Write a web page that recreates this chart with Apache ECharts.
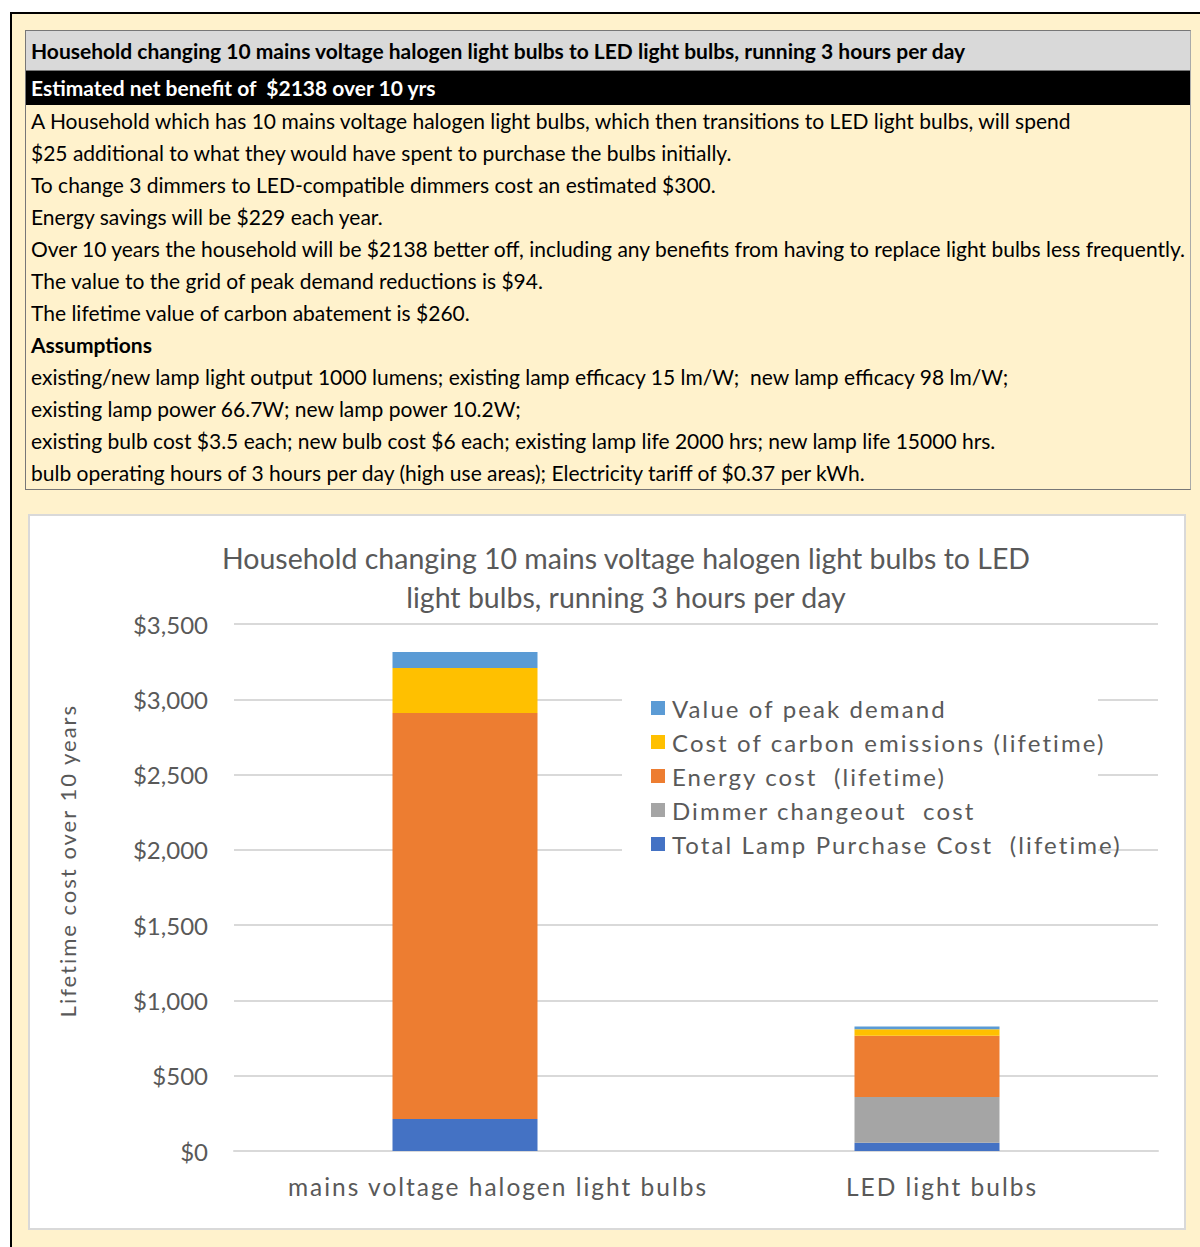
<!DOCTYPE html>
<html>
<head>
<meta charset="utf-8">
<script src="https://cdn.jsdelivr.net/npm/echarts@6/dist/echarts.min.js"></script>
<style>
  html, body { margin: 0; padding: 0; background: #ffffff; width: 1200px; height: 1247px; overflow: hidden; }
  #frame { position: absolute; left: 10px; top: 12px; width: 1300px; height: 1300px; background: #fff2cc;
           border-left: 2px solid #000; border-top: 2px solid #000; }
  #table { position: absolute; left: 25px; top: 30px; width: 1164px; border: 1px solid #777; border-right-color: #aaa;
           font-family: Lato, "Open Sans", sans-serif; font-size: 21px; color: #000; }
  #table div { white-space: nowrap; padding-left: 5px; box-sizing: border-box; }
  .hdr { height: 40px; line-height: 39px; background: #d9d9d9; font-weight: bold; border-bottom: 1px solid #777; }
  .blk { height: 34px; line-height: 33px; background: #000; color: #fff; font-weight: bold; }
  .row { height: 32px; line-height: 31px; }
  .b { font-weight: bold; }
  #chartbox { position: absolute; left: 28px; top: 514px; width: 1158px; height: 716px; background: #fff;
              box-sizing: border-box; border: 2px solid #d9d9d9; }
  #chart { position: absolute; left: 28px; top: 514px; width: 1158px; height: 716px; }
</style>
</head>
<body>
<div id="frame"></div>
<div id="table">
  <div class="hdr">Household changing 10 mains voltage halogen light bulbs to LED light bulbs, running 3 hours per day</div>
  <div class="blk">Estimated net benefit of&nbsp; $2138 over 10 yrs</div>
  <div class="row">A Household which has 10 mains voltage halogen light bulbs, which then transitions to LED light bulbs, will spend</div>
  <div class="row">$25 additional to what they would have spent to purchase the bulbs initially.</div>
  <div class="row">To change 3 dimmers to LED-compatible dimmers cost an estimated $300.</div>
  <div class="row">Energy savings will be $229 each year.</div>
  <div class="row">Over 10 years the household will be $2138 better off, including any benefits from having to replace light bulbs less frequently.</div>
  <div class="row">The value to the grid of peak demand reductions is $94.</div>
  <div class="row">The lifetime value of carbon abatement is $260.</div>
  <div class="row b">Assumptions</div>
  <div class="row">existing/new lamp light output 1000 lumens; existing lamp efficacy 15 lm/W;&nbsp; new lamp efficacy 98 lm/W;</div>
  <div class="row">existing lamp power 66.7W; new lamp power 10.2W;</div>
  <div class="row">existing bulb cost $3.5 each; new bulb cost $6 each; existing lamp life 2000 hrs; new lamp life 15000 hrs.</div>
  <div class="row">bulb operating hours of 3 hours per day (high use areas); Electricity tariff of $0.37 per kWh.</div>
</div>
<div id="chartbox"></div>
<div id="chart"></div>
<script>
// ---- data ----
const categories = ['mains voltage halogen light bulbs', 'LED light bulbs'];
const lampPurchaseCost = [212, 55];
const dimmerCost = [0, 303];
const energyCost = [2697, 407];
const carbonCost = [299, 44];
const peakDemandValue = [106, 18];
const seriesNames = ['Total Lamp Purchase Cost  (lifetime)', 'Dimmer changeout  cost', 'Energy cost  (lifetime)',
                     'Cost of carbon emissions (lifetime)', 'Value of peak demand'];
const chartTitle = 'Household changing 10 mains voltage halogen light bulbs to LED\nlight bulbs, running 3 hours per day';
const yAxisName = 'Lifetime cost over 10 years';
const yMin = 0, yMax = 3500, yStep = 500;

const colors = ['#4472c4', '#a5a5a5', '#ed7d31', '#ffc000', '#5b9bd5'];
const seriesValues = [lampPurchaseCost, dimmerCost, energyCost, carbonCost, peakDemandValue];

const chart = echarts.init(document.getElementById('chart'), null, { renderer: 'svg' });
const txt = '#595959';
const option = {
  animation: false,
  backgroundColor: 'transparent',
  title: {
    text: chartTitle,
    left: 593, top: 19, textAlign: 'center',
    textStyle: { fontFamily: 'Lato', fontSize: 28.5, fontWeight: 'normal', color: txt, lineHeight: 39 }
  },
  graphic: [{
    type: 'rect', z: 1, shape: { x: 594, y: 176, width: 476, height: 175 },
    style: { fill: '#ffffff' }
  }],
  legend: {
    orient: 'vertical', left: 623, top: 182, z: 5,
    padding: 0, itemGap: 10, itemWidth: 14, itemHeight: 14, icon: 'rect',
    data: seriesNames.slice().reverse(),
    textStyle: { fontFamily: 'Lato', fontSize: 24, color: txt, lineHeight: 24, padding: [0, 0, 0, 2] }
  },
  grid: { left: 206, right: 28, top: 110, bottom: 79, containLabel: false },
  xAxis: {
    type: 'category', data: categories,
    axisLine: { show: true, lineStyle: { color: '#d9d9d9', width: 2 } },
    axisTick: { show: false },
    axisLabel: { interval: 0, margin: 23, fontFamily: 'Lato', fontSize: 24.5, color: txt }
  },
  yAxis: {
    type: 'value', min: yMin, max: yMax, interval: yStep,
    name: yAxisName, nameLocation: 'middle', nameGap: 156, nameRotate: 90,
    nameTextStyle: { fontFamily: 'Lato', fontSize: 22, color: txt },
    axisLine: { show: false }, axisTick: { show: false },
    splitLine: { lineStyle: { color: '#d9d9d9', width: 2 } },
    axisLabel: {
      margin: 26, fontFamily: 'Lato', fontSize: 24, color: txt, padding: [2, 0, 0, 0],
      formatter: v => '$' + v.toLocaleString('en-US')
    }
  },
  series: seriesNames.map((n, i) => ({
    name: n, type: 'bar', stack: 'total', barWidth: 145, z: 3,
    itemStyle: { color: colors[i] },
    data: seriesValues[i]
  }))
};
chart.setOption(option);

// Excel-style letter spacing for legend, category and axis-title texts
const norm = s => s.replace(/\s+/g, ' ').trim();
const legendSet = seriesNames.map(norm);
const catSet = categories.map(norm);
function applySpacing() {
  const svg = document.querySelector('#chart svg');
  if (!svg) return;
  svg.querySelectorAll('text').forEach(t => {
    if (t.getAttribute('data-sp')) return;
    const s = norm(t.textContent || '');
    let sp = null, shift = false;
    if (legendSet.includes(s)) sp = 2.1;
    else if (catSet.includes(s)) { sp = 2.0; shift = true; }
    else if (s === norm(yAxisName)) { sp = 2.0; shift = true; }
    if (sp == null) return;
    t.style.whiteSpace = 'pre';
    const w0 = t.getComputedTextLength();
    t.setAttribute('letter-spacing', sp);
    if (shift) {
      const anchor = t.getAttribute('text-anchor') || getComputedStyle(t).textAnchor;
      if (anchor === 'middle') {
        const x = parseFloat(t.getAttribute('x') || '0');
        t.setAttribute('x', x - w0 / 2);
        t.setAttribute('text-anchor', 'start');
      }
    }
    t.setAttribute('data-sp', '1');
  });
}
try { chart.getZr().flush(); } catch (e) {}
applySpacing();
chart.on('finished', applySpacing);
setTimeout(applySpacing, 50);
</script>
</body>
</html>
